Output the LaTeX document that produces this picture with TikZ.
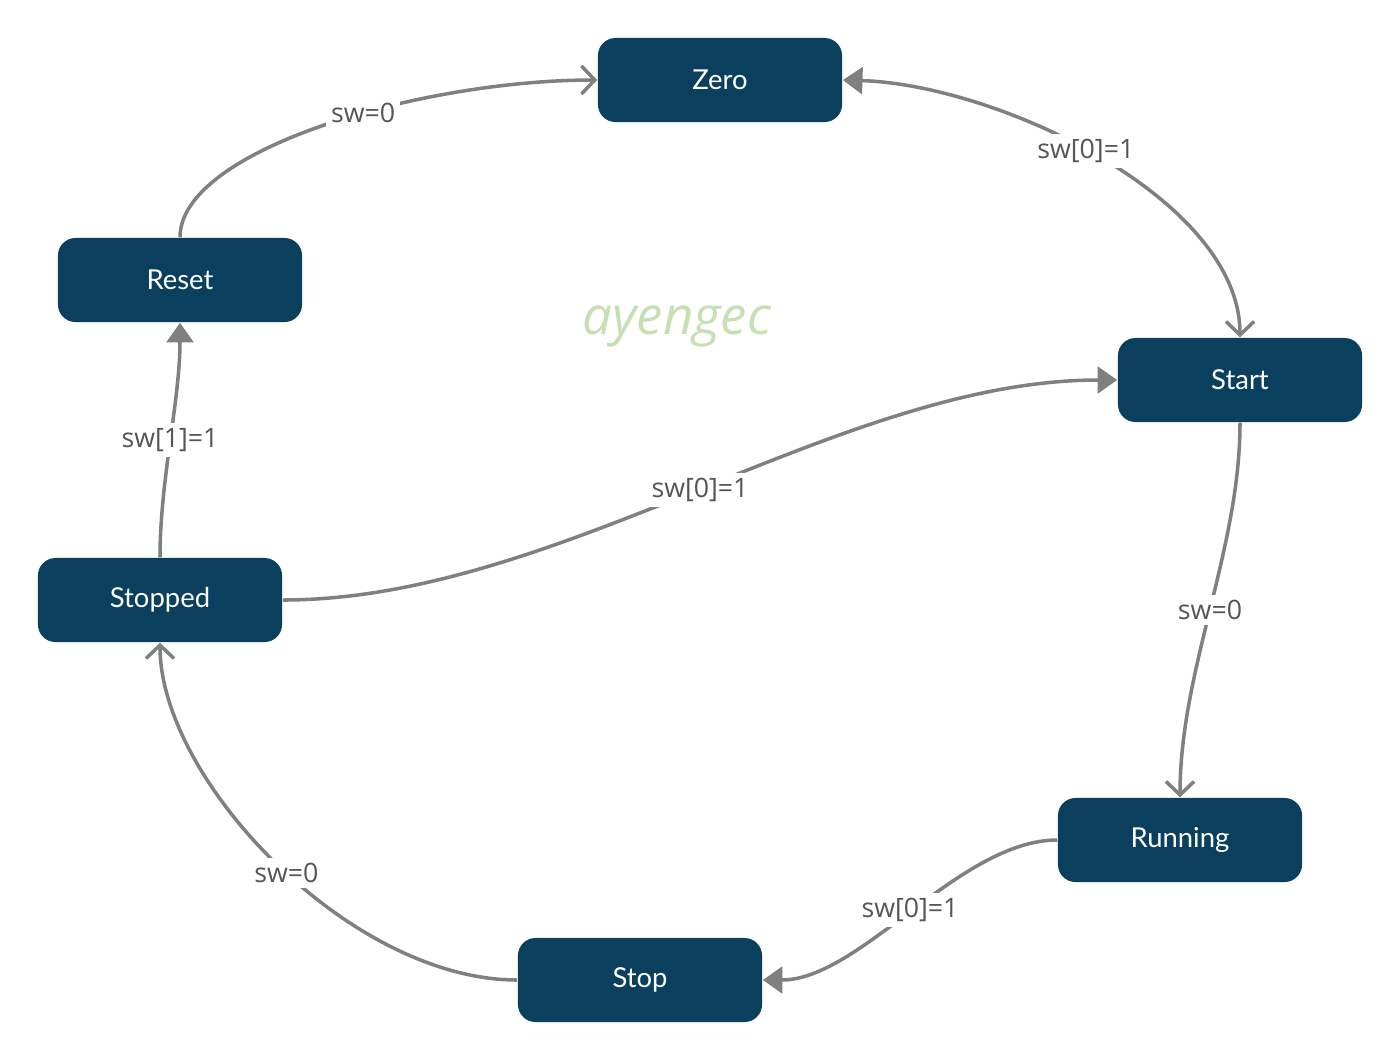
\documentclass[tikz,border=0pt]{standalone}
\usepackage{fontspec}
\usepackage{xcolor}
\usepackage{tikz}
\usetikzlibrary{arrows.meta}
\newfontfamily\statefont{Lato}
\newfontfamily\guardfont{Open Sans}
\definecolor{statebg}{HTML}{0A3F5E}
\definecolor{edgegray}{HTML}{808080}
\definecolor{guardtext}{HTML}{555555}
\definecolor{markgreen}{HTML}{C6E0B4}

\begin{document}
\begin{tikzpicture}[x=0.01cm, y=-0.01cm,
  state/.style={fill=statebg, rounded corners=5pt, minimum width=2.44cm, minimum height=0.84cm, text=white, font=\statefont\fontsize{7.8}{9}\selectfont},
  trans/.style={edgegray, line width=1pt},
  guard/.style={fill=white, text=guardtext, inner sep=1.5pt, font=\guardfont\fontsize{7.6}{9}\selectfont},
  open/.style={-{Straight Barb[length=3.8pt, width=8pt]}},
  solid tip/.style={-{Triangle[length=5.6pt, width=7.6pt]}}]
  \useasboundingbox (0,0) rectangle (1400,1060);

  % States
  \node[state] (zero) at (720,80) {Zero};
  \node[state] (reset) at (180,280) {Reset};
  \node[state] (start) at (1240,380) {Start};
  \node[state] (stopped) at (160,600) {Stopped};
  \node[state] (running) at (1180,840) {Running};
  \node[state] (stop) at (640,980) {Stop};

  % Watermark
  \node[text=markgreen, font=\guardfont\itshape\fontsize{15}{17}\selectfont] (mark) at (677,326) {ayengec};

  % Transitions
  \draw[trans, open] (reset.north) .. controls (180,150) and (420,80) .. node[guard, pos=0.58] {sw=0} (zero.west);
  \draw[trans, {Triangle[length=5.6pt, width=7.6pt]}-{Straight Barb[length=3.8pt, width=8pt]}] (zero.east) .. controls (1000,85) and (1240,200) .. node[guard, pos=0.47] {sw[0]=1} (start.north);
  \draw[trans, solid tip] (stopped.east) .. controls (560,600) and (840,380) .. node[guard] {sw[0]=1} (start.west);
  \draw[trans, open] (start.south) .. controls (1240,550) and (1180,670) .. node[guard] {sw=0} (running.north);
  \draw[trans, solid tip] (running.west) .. controls (960,840) and (860,980) .. node[guard] {sw[0]=1} (stop.east);
  \draw[trans, open] (stop.west) .. controls (350,980) and (160,780) .. node[guard, pos=0.475] {sw=0} (stopped.south);
  \draw[trans, solid tip] (stopped.north) .. controls (160,480) and (180,400) .. node[guard] {sw[1]=1} (reset.south);
\end{tikzpicture}
\end{document}
